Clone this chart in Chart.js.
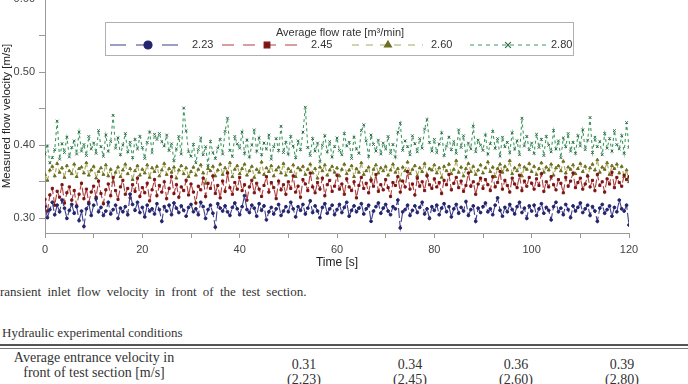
<!DOCTYPE html>
<html>
<head>
<meta charset="utf-8">
<script src="https://cdn.jsdelivr.net/npm/chart.js@4/dist/chart.umd.min.js"></script>
<style>
body { margin: 0; width: 688px; height: 384px; overflow: hidden; background: #fff; position: relative; font-family: "Liberation Serif", serif; color: #333; }
#chartBox { position: absolute; left: 0; top: -20px; width: 688px; height: 290px; }
.txt { position: absolute; font-size: 13px; white-space: nowrap; }
#rule1 { position: absolute; left: 0; width: 688px; top: 344px; border-top: 2px solid #555; }
#rule2 { position: absolute; left: 0; width: 688px; top: 348px; border-top: 1px solid #777; }
.cell { position: absolute; font-size: 14px; text-align: center; line-height: 15px; white-space: nowrap; }
</style>
</head>
<body>
<div id="chartBox"><canvas id="chartViwe"></canvas></div>

<div class="txt" style="left:0; top:284px; word-spacing:3px;">ransient inlet flow velocity in front of the test section.</div>
<div class="txt" style="left:2px; top:325px;">Hydraulic experimental conditions</div>
<div id="rule1"></div>
<div id="rule2"></div>
<div class="cell" style="left:0; width:188px; top:350px;">Average entrance velocity in<br>front of test section [m/s]</div>
<div class="cell" style="left:274px; width:60px; top:357px;">0.31<br>(2.23)</div>
<div class="cell" style="left:380px; width:60px; top:357px;">0.34<br>(2.45)</div>
<div class="cell" style="left:486px; width:60px; top:357px;">0.36<br>(2.60)</div>
<div class="cell" style="left:592px; width:60px; top:357px;">0.39<br>(2.80)</div>

<script>
// flow rates [m3/min] for the legend
var flowRates = ['2.23', '2.45', '2.60', '2.80'];

// measured velocity [m/s], one sample every 0.5 s from 0 to 120 s
var v223 = [
	0.316,0.301,0.312,0.322,0.305,0.318,0.309,0.325,0.314,0.300,0.311,0.319,0.307,0.316,0.297,0.310,0.289,0.313,0.320,0.304,
	0.318,0.327,0.309,0.315,0.304,0.310,0.322,0.306,0.312,0.318,0.300,0.314,0.309,0.316,0.305,0.333,0.319,0.311,0.322,0.308,
	0.315,0.302,0.318,0.310,0.313,0.306,0.320,0.312,0.296,0.316,0.310,0.318,0.305,0.321,0.314,0.308,0.317,0.311,0.303,0.315,
	0.319,0.309,0.313,0.305,0.322,0.316,0.300,0.312,0.318,0.307,0.288,0.320,0.314,0.310,0.317,0.309,0.304,0.315,0.321,0.313,
	0.305,0.316,0.331,0.312,0.308,0.318,0.314,0.303,0.320,0.311,0.317,0.298,0.309,0.315,0.306,0.313,0.319,0.304,0.310,0.316,
	0.309,0.322,0.313,0.302,0.316,0.311,0.319,0.306,0.314,0.324,0.308,0.317,0.310,0.301,0.315,0.320,0.307,0.313,0.318,0.305,
	0.312,0.319,0.308,0.315,0.322,0.303,0.311,0.317,0.309,0.314,0.320,0.306,0.313,0.318,0.296,0.310,0.316,0.321,0.307,0.314,
	0.319,0.310,0.305,0.316,0.313,0.325,0.287,0.309,0.312,0.318,0.304,0.311,0.317,0.308,0.315,0.322,0.306,0.313,0.300,0.316,
	0.311,0.318,0.305,0.314,0.320,0.309,0.316,0.302,0.313,0.319,0.307,0.315,0.310,0.323,0.304,0.312,0.317,0.296,0.314,0.308,
	0.316,0.321,0.309,0.313,0.305,0.318,0.328,0.311,0.303,0.315,0.309,0.319,0.312,0.306,0.316,0.322,0.308,0.314,0.300,0.317,
	0.310,0.318,0.304,0.313,0.320,0.307,0.315,0.311,0.298,0.316,0.322,0.309,0.314,0.305,0.319,0.312,0.301,0.317,0.310,0.315,
	0.321,0.308,0.313,0.318,0.304,0.316,0.310,0.296,0.314,0.319,0.307,0.312,0.317,0.303,0.315,0.309,0.325,0.313,0.310,0.318,
	0.291
];
var v245 = [
	0.326,0.310,0.332,0.341,0.318,0.337,0.329,0.346,0.321,0.335,0.343,0.325,0.338,0.317,0.333,0.348,0.327,0.340,0.322,0.336,
	0.344,0.329,0.351,0.334,0.320,0.339,0.347,0.331,0.356,0.338,0.326,0.343,0.352,0.333,0.341,0.328,0.346,0.337,0.355,0.330,
	0.342,0.335,0.348,0.324,0.339,0.353,0.331,0.345,0.336,0.350,0.327,0.341,0.357,0.334,0.346,0.329,0.343,0.338,0.352,0.332,
	0.347,0.336,0.321,0.344,0.339,0.355,0.330,0.348,0.341,0.358,0.334,0.345,0.328,0.351,0.337,0.362,0.342,0.333,0.349,0.340,
	0.356,0.338,0.346,0.325,0.343,0.352,0.335,0.348,0.340,0.330,0.345,0.357,0.336,0.349,0.342,0.327,0.351,0.339,0.346,0.333,
	0.350,0.341,0.358,0.336,0.344,0.329,0.353,0.347,0.338,0.362,0.343,0.335,0.349,0.340,0.355,0.331,0.346,0.352,0.337,0.344,
	0.359,0.340,0.347,0.333,0.354,0.343,0.338,0.350,0.328,0.345,0.356,0.341,0.348,0.335,0.352,0.344,0.360,0.337,0.346,0.339,
	0.353,0.342,0.330,0.349,0.345,0.357,0.336,0.351,0.343,0.364,0.340,0.347,0.332,0.355,0.344,0.350,0.338,0.358,0.346,0.341,
	0.354,0.343,0.349,0.334,0.352,0.346,0.360,0.339,0.348,0.356,0.342,0.351,0.337,0.345,0.362,0.344,0.350,0.333,0.347,0.355,
	0.341,0.353,0.346,0.338,0.357,0.343,0.349,0.364,0.340,0.352,0.345,0.336,0.355,0.347,0.342,0.359,0.338,0.351,0.344,0.356,
	0.348,0.340,0.354,0.345,0.361,0.337,0.350,0.343,0.357,0.346,0.339,0.353,0.348,0.335,0.356,0.344,0.351,0.362,0.342,0.349,
	0.355,0.340,0.347,0.358,0.343,0.352,0.338,0.360,0.345,0.350,0.336,0.354,0.347,0.363,0.342,0.356,0.349,0.344,0.359,0.353,
	0.357
];
var v260 = [
	0.360,0.352,0.366,0.371,0.358,0.375,0.363,0.369,0.356,0.372,0.365,0.361,0.374,0.357,0.368,0.370,0.362,0.376,0.359,0.366,
	0.371,0.355,0.364,0.369,0.360,0.373,0.358,0.367,0.350,0.363,0.370,0.357,0.366,0.374,0.361,0.368,0.353,0.365,0.372,0.359,
	0.367,0.362,0.373,0.356,0.369,0.364,0.371,0.358,0.366,0.375,0.360,0.368,0.363,0.370,0.355,0.366,0.372,0.361,0.369,0.357,
	0.364,0.370,0.359,0.367,0.373,0.362,0.348,0.368,0.365,0.371,0.358,0.366,0.374,0.360,0.369,0.363,0.376,0.357,0.367,0.372,
	0.361,0.368,0.374,0.359,0.365,0.371,0.356,0.367,0.363,0.377,0.360,0.369,0.364,0.372,0.358,0.366,0.370,0.362,0.375,0.359,
	0.368,0.364,0.373,0.357,0.369,0.366,0.371,0.360,0.367,0.374,0.362,0.368,0.355,0.370,0.365,0.373,0.359,0.366,0.371,0.363,
	0.369,0.358,0.367,0.374,0.361,0.366,0.372,0.357,0.368,0.363,0.376,0.360,0.365,0.370,0.354,0.367,0.373,0.362,0.369,0.365,
	0.371,0.359,0.366,0.374,0.363,0.368,0.352,0.370,0.365,0.377,0.361,0.367,0.372,0.358,0.369,0.364,0.375,0.360,0.368,0.366,
	0.373,0.362,0.369,0.356,0.371,0.365,0.374,0.361,0.367,0.379,0.363,0.370,0.358,0.368,0.375,0.364,0.371,0.360,0.366,0.373,
	0.362,0.369,0.377,0.364,0.370,0.357,0.368,0.374,0.363,0.371,0.366,0.379,0.361,0.369,0.365,0.373,0.358,0.370,0.367,0.375,
	0.364,0.371,0.360,0.368,0.376,0.363,0.370,0.366,0.374,0.359,0.369,0.372,0.365,0.378,0.362,0.370,0.367,0.373,0.361,0.368,
	0.375,0.364,0.371,0.358,0.369,0.374,0.366,0.380,0.363,0.370,0.367,0.376,0.360,0.372,0.368,0.374,0.362,0.371,0.357,0.366,
	0.350
];
var v280 = [
	0.388,0.399,0.376,0.383,0.394,0.433,0.381,0.402,0.390,0.411,0.384,0.397,0.406,0.388,0.418,0.392,0.401,0.386,0.412,0.395,
	0.403,0.389,0.420,0.398,0.385,0.414,0.392,0.405,0.441,0.396,0.410,0.387,0.400,0.416,0.391,0.404,0.383,0.408,0.395,0.412,
	0.397,0.382,0.404,0.418,0.390,0.415,0.408,0.416,0.405,0.399,0.414,0.393,0.402,0.379,0.395,0.412,0.388,0.451,0.420,0.391,
	0.385,0.401,0.376,0.394,0.410,0.387,0.398,0.372,0.405,0.390,0.382,0.396,0.408,0.388,0.419,0.437,0.393,0.385,0.412,0.402,
	0.396,0.418,0.389,0.407,0.384,0.400,0.421,0.392,0.410,0.387,0.403,0.395,0.414,0.381,0.398,0.409,0.393,0.426,0.390,0.404,
	0.388,0.412,0.399,0.383,0.406,0.394,0.418,0.452,0.397,0.386,0.409,0.392,0.403,0.378,0.400,0.413,0.391,0.405,0.384,0.398,
	0.410,0.393,0.387,0.416,0.399,0.404,0.382,0.411,0.395,0.389,0.420,0.428,0.406,0.385,0.414,0.401,0.392,0.407,0.388,0.403,
	0.395,0.412,0.389,0.401,0.384,0.418,0.430,0.393,0.406,0.398,0.387,0.413,0.402,0.391,0.409,0.396,0.422,0.435,0.404,0.392,
	0.408,0.390,0.402,0.417,0.386,0.399,0.411,0.394,0.405,0.389,0.421,0.397,0.413,0.384,0.403,0.395,0.426,0.391,0.407,0.400,
	0.393,0.414,0.388,0.402,0.419,0.396,0.409,0.385,0.411,0.398,0.404,0.390,0.417,0.395,0.406,0.387,0.437,0.399,0.412,0.394,
	0.403,0.389,0.415,0.397,0.408,0.386,0.412,0.400,0.391,0.420,0.395,0.406,0.383,0.410,0.398,0.416,0.392,0.404,0.389,0.413,
	0.399,0.421,0.394,0.407,0.438,0.390,0.411,0.398,0.405,0.387,0.416,0.396,0.409,0.392,0.420,0.401,0.395,0.413,0.389,0.431,
	0.397
];

var timeTicks = [0, 20, 40, 60, 80, 100, 120];
var velTicks = [0.30, 0.40, 0.50, 0.60];

// legend layout: line start, line end, marker x, label x
var legLine0 = [110, 222, 352, 470];
var legLine1 = [187, 305, 423, 546];
var legMark = [148, 267, 388, 508];
var legText = [192, 311, 431, 551];

function toPoints(vals) {
	return vals.map((v, i) => {
		return { x: i * 0.5, y: v }
	})
};

function series(r, vals) {
	var color, pcolor, style, dash, legDash, rad;
	switch (r) {
		case '2.23':
			color = '#3f3f8c'; pcolor = '#23236e'; style = 'circle'; dash = [10, 3]; legDash = [16, 10]; rad = 1.4;
			break;
		case '2.45':
			color = '#b04040'; pcolor = '#7c1414'; style = 'rect'; dash = [8, 3]; legDash = [12, 9]; rad = 1.5;
			break;
		case '2.60':
			color = '#a6ab5a'; pcolor = '#6e6e22'; style = 'triangle'; dash = [4, 3]; legDash = [7, 7]; rad = 1.7;
			break;
		case '2.80':
		default:
			color = '#3f9a5e'; pcolor = '#2a6a46'; style = 'crossRot'; dash = [3, 3]; legDash = [4, 4]; rad = 1.9;
			break;
	}
	return {
		label: r,
		data: toPoints(vals),
		borderColor: color,
		backgroundColor: pcolor,
		pointBorderColor: pcolor,
		pointBackgroundColor: pcolor,
		pointStyle: style,
		pointRadius: rad,
		pointBorderWidth: 1,
		borderWidth: 1.1,
		borderDash: dash,
		legDash: legDash,
		tension: 0,
		fill: false
	}
};

// boxed legend drawn like the original plot
var boxLegend = {
	id: 'boxLegend',
	afterDraw(c) {
		var g = c.ctx;
		g.save();
		g.fillStyle = '#fff';
		g.fillRect(105, 42, 468, 33);
		g.strokeStyle = '#b0b0b0';
		g.lineWidth = 1;
		g.strokeRect(105.5, 42.5, 468, 33);
		g.fillStyle = '#333';
		g.font = '11px "Liberation Sans", Arial, sans-serif';
		g.textAlign = 'center';
		g.textBaseline = 'middle';
		g.fillText('Average flow rate [m\u00b3/min]', 340, 53);
		c.data.datasets.forEach((ds, i) => {
			var y = 65;
			g.strokeStyle = ds.borderColor;
			g.lineWidth = 1.2;
			g.setLineDash(ds.legDash);
			g.beginPath();
			g.moveTo(legLine0[i], y);
			g.lineTo(legLine1[i], y);
			g.stroke();
			g.setLineDash([]);
			g.fillStyle = ds.pointBackgroundColor;
			g.strokeStyle = ds.pointBorderColor;
			Chart.helpers.drawPoint(g, {
				pointStyle: ds.pointStyle, radius: 4, borderWidth: 2
			}, legMark[i], y);
			g.fillStyle = '#333';
			g.textAlign = 'left';
			g.fillText(flowRates[i], legText[i], y);
		});
		g.restore();
	}
};

var ctx = document.getElementById('chartViwe').getContext('2d');

var chart = new Chart(ctx, {
	type: 'line',
	data: {
		datasets: [
			series('2.23', v223),
			series('2.45', v245),
			series('2.60', v260),
			series('2.80', v280),
		]
	},
	plugins: [boxLegend],
	options: {
		responsive: true,
		maintainAspectRatio: false,
		animation: false,
		layout: { padding: { top: 19, right: 59, left: 0, bottom: 0 } },
		plugins: {
			legend: { display: false },
			tooltip: { enabled: false }
		},
		scales: {
			x: {
				type: 'linear',
				min: 0,
				max: 120,
				afterFit: function (s) { s.height = 37; },
				afterBuildTicks: function (s) {
					s.ticks = [0, 10, 20, 30, 40, 50, 60, 70, 80, 90, 100, 110, 120].map(v => ({ value: v }));
				},
				grid: { display: true, drawOnChartArea: false, drawTicks: true, tickLength: 5, color: '#999', tickColor: '#999' },
				border: { color: '#999', width: 1 },
				ticks: {
					autoSkip: false,
					maxRotation: 0,
					padding: 5,
					color: '#444',
					font: { family: '"Liberation Sans", Arial, sans-serif', size: 11 },
					callback: v => timeTicks.includes(v) ? v : ''
				},
				title: {
					display: true,
					text: 'Time [s]',
					color: '#222',
					padding: { top: 2, bottom: 0 },
					font: { family: '"Liberation Sans", Arial, sans-serif', size: 12 }
				}
			},
			y: {
				min: 0.28,
				max: 0.60,
				afterFit: function (s) { s.width = 45; },
				afterBuildTicks: function (s) {
					s.ticks = [0.30, 0.35, 0.40, 0.45, 0.50, 0.55, 0.60].map(v => ({ value: v }));
				},
				grid: { display: true, drawOnChartArea: false, drawTicks: true, tickLength: 6, color: '#999', tickColor: '#999' },
				border: { color: '#999', width: 1 },
				ticks: {
					padding: 4,
					color: '#444',
					font: { family: '"Liberation Sans", Arial, sans-serif', size: 11 },
					callback: v => velTicks.some(t => Math.abs(t - v) < 1e-6) ? v.toFixed(2) : ''
				},
				title: {
					display: true,
					text: 'Measured flow velocity [m/s]',
					color: '#222',
					padding: 0,
					font: { family: '"Liberation Sans", Arial, sans-serif', size: 11.5 }
				}
			}
		}
	}
});
</script>
</body>
</html>
